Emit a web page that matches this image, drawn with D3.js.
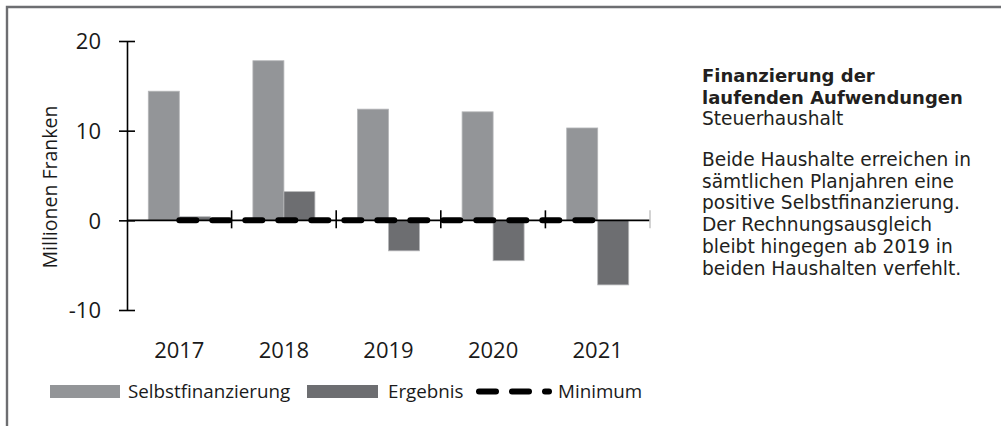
<!DOCTYPE html>
<html><head><meta charset="utf-8">
<script src="https://cdn.jsdelivr.net/npm/d3@7"></script>
<style>
html,body{margin:0;padding:0;background:#fff;}
svg{display:block;}
text{font-family:"Open Sans",sans-serif;fill:#1a1a1a;}
text.rt{font-family:"DejaVu Sans",sans-serif;fill:#231f20;}
</style></head>
<body>
<svg id="c" width="1001" height="426"></svg>
<script>
const years = ["2017","2018","2019","2020","2021"];
const seriesNames = ["Selbstfinanzierung","Ergebnis"];
const selbstfinanzierung = [14.4, 17.8, 12.4, 12.1, 10.3];
const ergebnis = [0.4, 3.2, -3.4, -4.5, -7.2];
const minimum = [0, 0, 0, 0, 0];
const yTicks = [-10, 0, 10, 20];
const titleLines = ["Finanzierung der","laufenden Aufwendungen"];
const subtitle = "Steuerhaushalt";
const noteLines = ["Beide Haushalte erreichen in","sämtlichen Planjahren eine","positive Selbstfinanzierung.","Der Rechnungsausgleich","bleibt hingegen ab 2019 in","beiden Haushalten verfehlt."];
const yLabel = "Millionen Franken";

const colors = {Selbstfinanzierung:"#939598", Ergebnis:"#6d6e71"};
const svg = d3.select("#c");

// frame
svg.append("path").attr("d","M7,426 V7 H1001").attr("fill","none").attr("stroke","#6d6e71").attr("stroke-width",2.4);

const x = d3.scaleBand().domain(years).range([127,650]).padding(0);
const xs = d3.scaleBand().domain(seriesNames).range([0,x.bandwidth()]).paddingInner(0).paddingOuter(0.687);
const y = d3.scaleLinear().domain([-10,20]).range([310,41]);

const data = years.map((yr,i)=>({year:yr, values:[
  {name:"Selbstfinanzierung", v:selbstfinanzierung[i]},
  {name:"Ergebnis", v:ergebnis[i]}]}));

const g = svg.append("g");
g.selectAll("g.grp").data(data).join("g").attr("class","grp")
  .attr("transform",d=>`translate(${x(d.year)},0)`)
  .selectAll("rect").data(d=>d.values).join("rect")
  .attr("x",d=>xs(d.name)).attr("width",xs.bandwidth())
  .attr("y",d=>y(Math.max(0,d.v))).attr("height",d=>Math.abs(y(d.v)-y(0)))
  .attr("fill",d=>colors[d.name]).attr("stroke","#b5b6b8").attr("stroke-width",0.8);

// y axis
const yAxis = d3.axisLeft(y).tickValues(yTicks).tickSize(0).tickPadding(26).tickFormat(d=>String(d));
const ya = svg.append("g").attr("transform","translate(127,0)").call(yAxis);
ya.select(".domain").attr("stroke","#000").attr("stroke-width",1.6);
ya.selectAll(".tick text").style("font-size","22px").attr("fill","#1a1a1a").attr("dy","0.35em");
ya.selectAll(".tick").append("line").attr("x1",-8).attr("x2",8).attr("stroke","#000").attr("stroke-width",1.6);

// x axis line at zero
const xa = svg.append("g").attr("transform",`translate(0,${y(0)})`);
xa.append("line").attr("x1",x.range()[0]).attr("x2",x.range()[1]).attr("stroke","#000").attr("stroke-width",1.6);
const bounds = years.map(d=>x(d)+x.bandwidth());
xa.selectAll("line.tk").data(bounds).join("line").attr("class","tk")
  .attr("x1",d=>d).attr("x2",d=>d).attr("y1",-10).attr("y2",8)
  .attr("stroke",(d,i)=>i===bounds.length-1?"#c8c8c8":"#000").attr("stroke-width",1.6);

// x labels
svg.selectAll("text.xl").data(years).join("text").attr("class","xl")
  .attr("x",d=>x(d)+x.bandwidth()/2).attr("y",358).attr("text-anchor","middle")
  .style("font-size","22px").text(d=>d);

// minimum line
const line = d3.line().x((d,i)=>x(years[i])+x.bandwidth()/2).y(d=>y(d));
svg.append("path").datum(minimum).attr("d",line).attr("fill","none")
  .attr("stroke","#000").attr("stroke-width",6).attr("stroke-linecap","round")
  .attr("stroke-dasharray","17,16");

// y label
svg.append("text").attr("transform","translate(57,187) rotate(-90)").attr("text-anchor","middle")
  .style("font-size","19.5px").text(yLabel);

// legend
const lg = svg.append("g");
lg.append("rect").attr("x",50).attr("y",385).attr("width",70).attr("height",13).attr("fill",colors.Selbstfinanzierung);
lg.append("text").attr("x",128).attr("y",398).style("font-size","18.8px").text(seriesNames[0]);
lg.append("rect").attr("x",307).attr("y",385).attr("width",71).attr("height",13).attr("fill",colors.Ergebnis);
lg.append("text").attr("x",388).attr("y",398).style("font-size","18.8px").text(seriesNames[1]);
lg.append("path").attr("d","M479,391.5 H549").attr("stroke","#000").attr("stroke-width",6)
  .attr("stroke-linecap","round").attr("stroke-dasharray","17,16");
lg.append("text").attr("x",558).attr("y",398).style("font-size","18.8px").text("Minimum");

// right text
const rt = svg.append("g");
titleLines.forEach((t,i)=>rt.append("text").attr("class","rt").attr("x",702).attr("y",82+i*21.5).style("font-size","18px").style("font-weight","bold").text(t));
rt.append("text").attr("class","rt").attr("x",702).attr("y",125).style("font-size","18.6px").text(subtitle);
noteLines.forEach((t,i)=>rt.append("text").attr("class","rt").attr("x",702).attr("y",166+i*21.7).style("font-size","18.6px").text(t));
</script>
</body></html>
